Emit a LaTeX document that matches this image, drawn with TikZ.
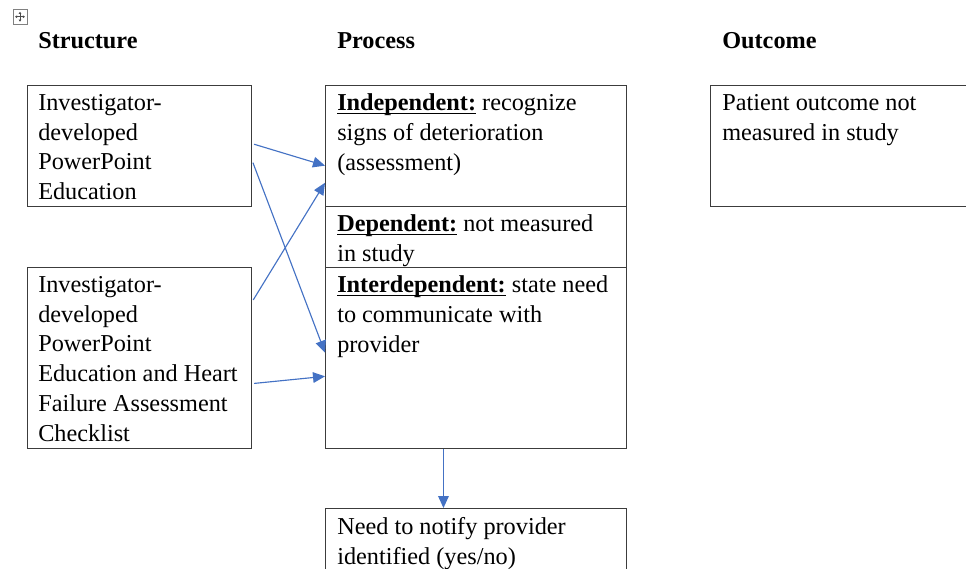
\documentclass[tikz,border=0pt]{standalone}
\usepackage{fontspec}
\setmainfont{Liberation Serif}
\usetikzlibrary{positioning,calc,arrows.meta}

\definecolor{linkblue}{RGB}{68,114,196}
\definecolor{boxgray}{RGB}{60,60,60}

% bold term with a thin underline just below the baseline
\newcommand{\keyterm}[1]{\setbox0\hbox{\textbf{#1}}\rlap{\rule[-2.6pt]{\wd0}{0.8pt}}\box0{}}

\tikzset{
  box/.style={draw=boxgray, line width=0.9pt, inner sep=0pt, anchor=north west},
  boxtext/.style={anchor=north west, align=left, inner sep=0pt,
    font=\fontsize{18.2pt}{22.4pt}\selectfont,
    execute at begin node={\rule{0pt}{14pt}}},
  heading/.style={anchor=base west, inner sep=0pt,
    font=\fontsize{18.2pt}{22.4pt}\selectfont\bfseries},
  link/.style={draw=linkblue, line width=0.85pt, -{Triangle[length=9pt,width=8pt]}},
}

\begin{document}
\begin{tikzpicture}[x=0.75pt,y=-0.75pt]
  \useasboundingbox (0,0) rectangle (966,568);

  % move handle in the corner
  \draw[gray, line width=0.5pt] (13,9.5) rectangle (27,24);
  \foreach \dx/\dy in {1/0, -1/0, 0/1, 0/-1} {
    \draw[gray!60!black, line width=0.5pt, -{Triangle[length=1.6pt,width=2pt]}] (20,16.75) -- ++(5*\dx,5*\dy);
  }

  % column headings
  \foreach \n/\x/\t in {hstruct/38/Structure, hproc/337/Process, hout/722/Outcome} {
    \node[heading] (\n) at (\x,48.5) {\t};
  }

  % boxes
  \node[box, minimum width=168pt, minimum height=90.75pt] (s1) at (27,85) {};
  \node[box, minimum width=168pt, minimum height=135.75pt] (s2) at (27,267) {};
  \node[box, minimum width=225.75pt, minimum height=90.75pt] (p1) at (325,85) {};
  \node[box, minimum width=225.75pt, minimum height=45.75pt] (p2) at (325,206) {};
  \node[box, minimum width=225.75pt, minimum height=135.75pt] (p3) at (325,267) {};
  \node[box, minimum width=225.75pt, minimum height=90.75pt] (o1) at (710,85) {};
  \node[box, minimum width=225.75pt, minimum height=67.5pt] (n1) at (325,508) {};

  % box texts
  \node[boxtext] (s1t) at ([shift={(11,8.8)}]s1.north west)
    {Investigator-\\developed\\PowerPoint\\Education};
  \node[boxtext] (s2t) at ([shift={(11,8.8)}]s2.north west)
    {Investigator-\\developed\\PowerPoint\\Education and Heart\\Failure Assessment\\Checklist};
  \node[boxtext] (p1t) at ([shift={(12,8.8)}]p1.north west)
    {\keyterm{Independent:} recognize\\signs of deterioration\\(assessment)};
  \node[boxtext] (p2t) at ([shift={(12,8.8)}]p2.north west)
    {\keyterm{Dependent:} not measured\\in study};
  \node[boxtext] (p3t) at ([shift={(12,8.8)}]p3.north west)
    {\keyterm{Interdependent:} state need\\to communicate with\\provider};
  \node[boxtext] (o1t) at ([shift={(12,8.8)}]o1.north west)
    {Patient outcome not\\measured in study};
  \node[boxtext] (n1t) at ([shift={(12,8.8)}]n1.north west)
    {Need to notify provider\\identified (yes/no)};

  % structure to process links
  \foreach \a/\fa/\b/\fb in {s1/0.48/p1/0.66, s1/0.62/p3/0.47, s2/0.19/p1/0.80, s2/0.64/p3/0.60} {
    \draw[link, shorten <=1.5pt] ($(\a.north east)!\fa!(\a.south east)$) -- ($(\b.north west)!\fb!(\b.south west)$);
  }

  % process to notification
  \draw[link] ($(p3.south west)!0.392!(p3.south east)$) -- ($(n1.north west)!0.392!(n1.north east)$);
\end{tikzpicture}
\end{document}
